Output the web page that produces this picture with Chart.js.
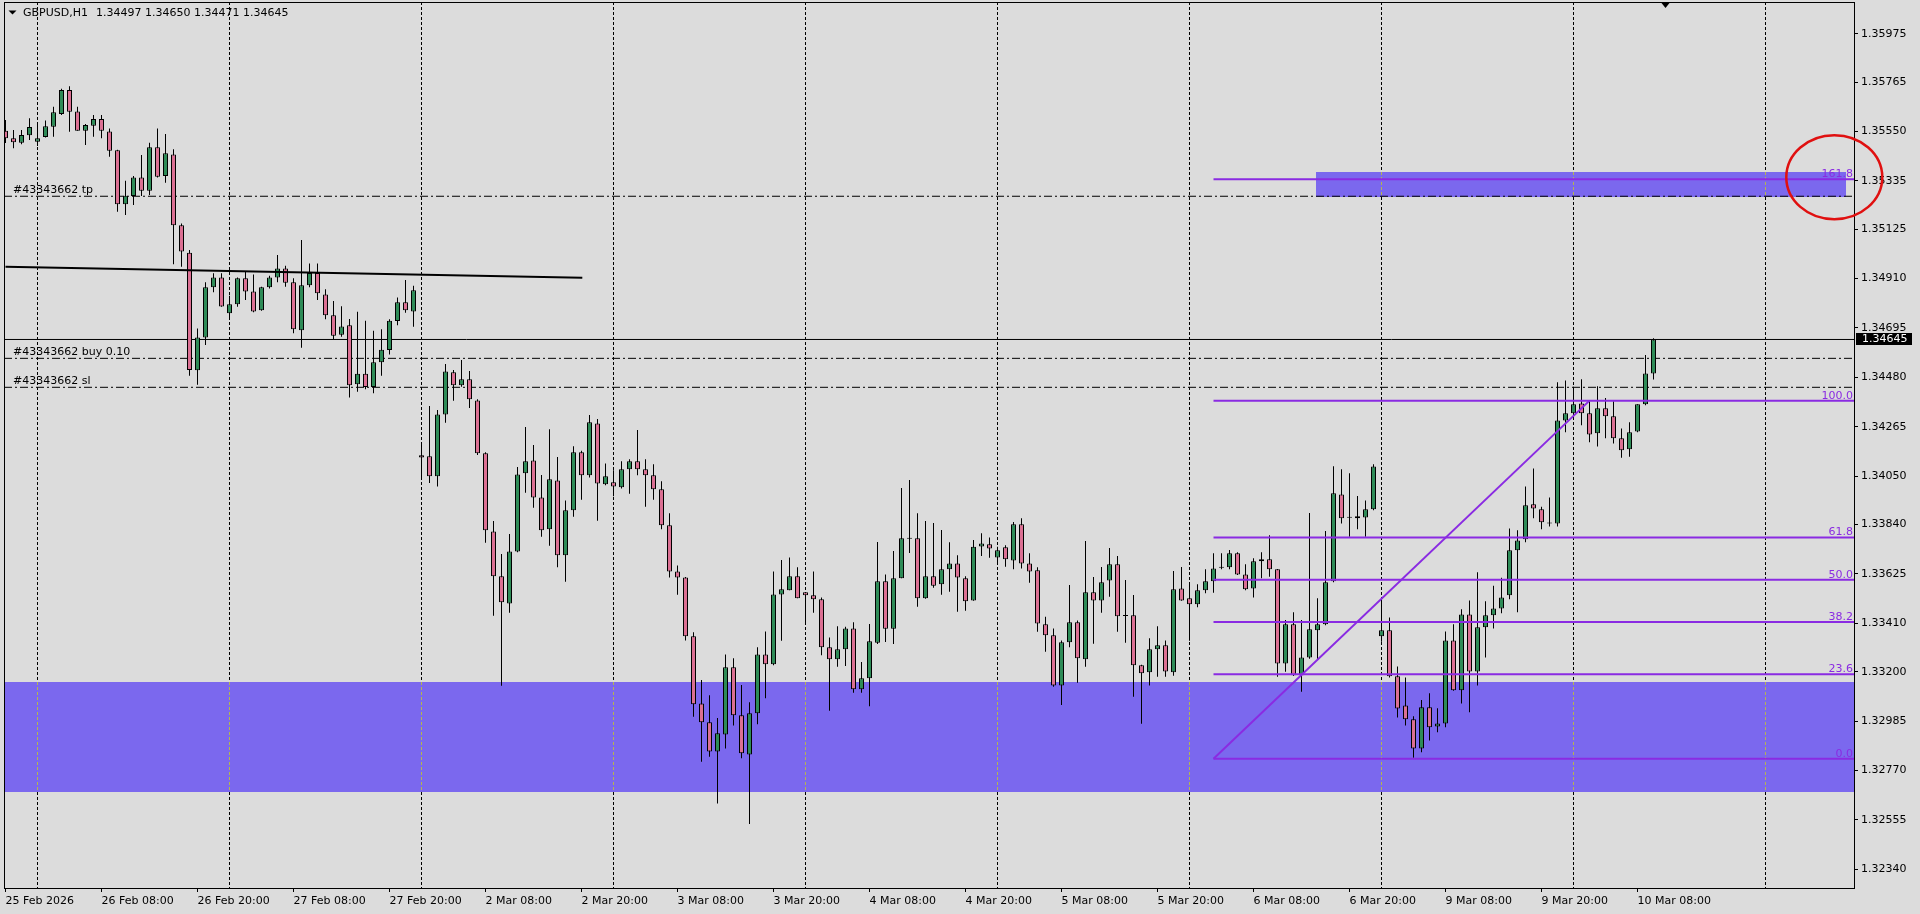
<!DOCTYPE html>
<html><head><meta charset="utf-8">
<script src="https://cdn.jsdelivr.net/npm/chart.js@4.4.1/dist/chart.umd.min.js"></script>
<style>html,body{margin:0;padding:0;background:#dcdcdc;overflow:hidden}canvas{display:block}</style>
</head><body>
<canvas id="c" width="1920" height="914"></canvas>
<script>
// ---------------- DATA ----------------
const symbolTitle = 'GBPUSD,H1';
const timeLabels = ['25 Feb 2026','26 Feb 08:00','26 Feb 20:00','27 Feb 08:00','27 Feb 20:00','2 Mar 08:00','2 Mar 20:00','3 Mar 08:00','3 Mar 20:00','4 Mar 08:00','4 Mar 20:00','5 Mar 08:00','5 Mar 20:00','6 Mar 08:00','6 Mar 20:00','9 Mar 08:00','9 Mar 20:00','10 Mar 08:00'];
const timeLabelBars = [0,12,24,36,48,60,72,84,96,108,120,132,144,156,168,180,192,204];
const dayGridBars = [4,28,52,76,100,124,148,172,196,220];
const priceTicks = [1.35975,1.35765,1.35550,1.35335,1.35125,1.34910,1.34695,1.34480,1.34265,1.34050,1.33840,1.33625,1.33410,1.33200,1.32985,1.32770,1.32555,1.32340];

const opens = [
1.35553,1.35520,1.35501,1.35533,1.35505,1.35526,1.35570,1.35626,1.35730,1.35637,
1.35553,1.35575,1.35604,1.35550,1.35468,1.35233,1.35269,1.35350,1.35292,1.35481,
1.35356,1.35450,1.35142,1.35022,1.34511,1.34654,1.34872,1.34915,1.34759,1.34798,
1.34911,1.34854,1.34772,1.34872,1.34915,1.34954,1.34894,1.34685,1.34881,1.34934,
1.34841,1.34750,1.34666,1.34707,1.34450,1.34496,1.34438,1.34546,1.34599,1.34725,
1.34807,1.34767,1.34141,1.34137,1.34050,1.34319,1.34502,1.34446,1.34472,1.34380,
1.34150,1.33810,1.33615,1.33497,1.33723,1.34063,1.34119,1.33958,1.33819,1.34032,
1.33706,1.33902,1.34154,1.34054,1.34280,1.34015,1.34024,1.34002,1.34080,1.34115,
1.34080,1.34054,1.33993,1.33837,1.33636,1.33610,1.33354,1.33062,1.32980,1.32853,
1.32927,1.33219,1.33010,1.32840,1.33019,1.33275,1.33232,1.33536,1.33554,1.33615,
1.33545,1.33532,1.33515,1.33306,1.33254,1.33297,1.33388,1.33123,1.33171,1.33326,
1.33593,1.33387,1.33606,1.33778,1.33780,1.33519,1.33615,1.33580,1.33645,1.33671,
1.33606,1.33510,1.33745,1.33754,1.33697,1.33741,1.33684,1.33841,1.33671,1.33641,
1.33406,1.33358,1.33140,1.33328,1.33415,1.33254,1.33545,1.33510,1.33597,1.33667,
1.33442,1.33445,1.33228,1.33197,1.33297,1.33315,1.33197,1.33562,1.33519,1.33493,
1.33554,1.33593,1.33652,1.33654,1.33715,1.33623,1.33562,1.33680,1.33689,1.33645,
1.33236,1.33406,1.33184,1.33262,1.33380,1.33406,1.33593,1.33971,1.33870,1.33876,
1.33871,1.33906,1.33354,1.33380,1.33180,1.33053,1.32993,1.32866,1.33045,1.32962,
1.32975,1.33336,1.33119,1.33449,1.33201,1.33393,1.33445,1.33475,1.33532,1.33728,
1.33776,1.33928,1.33906,1.33845,1.33845,1.34293,1.34324,1.34367,1.34324,1.34237,
1.34346,1.34311,1.34215,1.34167,1.34245,1.34363,1.34497];
const highs = [
1.35600,1.35556,1.35556,1.35607,1.35590,1.35597,1.35657,1.35736,1.35747,1.35657,
1.35582,1.35621,1.35621,1.35563,1.35470,1.35336,1.35356,1.35447,1.35501,1.35563,
1.35539,1.35472,1.35150,1.35034,1.34693,1.34894,1.34933,1.34933,1.34835,1.34915,
1.34940,1.34928,1.34874,1.34922,1.35012,1.34966,1.34911,1.35078,1.34976,1.34976,
1.34863,1.34812,1.34790,1.34734,1.34766,1.34727,1.34683,1.34689,1.34733,1.34828,
1.34904,1.34879,1.34190,1.34356,1.34338,1.34538,1.34512,1.34556,1.34508,1.34385,
1.34154,1.33855,1.33712,1.33799,1.34090,1.34264,1.34186,1.34055,1.34255,1.34134,
1.33945,1.34181,1.34161,1.34316,1.34299,1.34106,1.34076,1.34115,1.34124,1.34251,
1.34124,1.34102,1.34028,1.33889,1.33662,1.33612,1.33371,1.33164,1.33097,1.32998,
1.33275,1.33258,1.33142,1.33067,1.33306,1.33375,1.33636,1.33686,1.33697,1.33654,
1.33547,1.33636,1.33523,1.33349,1.33398,1.33395,1.33415,1.33242,1.33407,1.33764,
1.33623,1.33725,1.33999,1.34034,1.33889,1.33855,1.33847,1.33816,1.33763,1.33706,
1.33615,1.33773,1.33802,1.33784,1.33743,1.33750,1.33851,1.33867,1.33715,1.33654,
1.33439,1.33388,1.33336,1.33577,1.33423,1.33768,1.33612,1.33655,1.33738,1.33703,
1.33599,1.33533,1.33230,1.33345,1.33398,1.33336,1.33638,1.33655,1.33589,1.33580,
1.33646,1.33715,1.33715,1.33729,1.33719,1.33667,1.33693,1.33719,1.33793,1.33647,
1.33425,1.33458,1.33425,1.33890,1.33519,1.33812,1.34094,1.34081,1.34063,1.33964,
1.33945,1.34102,1.33512,1.33436,1.33223,1.33175,1.33006,1.33077,1.33106,1.33041,
1.33375,1.33406,1.33471,1.33510,1.33632,1.33506,1.33574,1.33609,1.33823,1.33815,
1.34006,1.34084,1.33917,1.33958,1.34459,1.34467,1.34439,1.34472,1.34377,1.34442,
1.34390,1.34376,1.34258,1.34285,1.34363,1.34577,1.34650];
const lows = [
1.35500,1.35477,1.35494,1.35513,1.35487,1.35524,1.35527,1.35621,1.35549,1.35553,
1.35491,1.35527,1.35520,1.35440,1.35201,1.35186,1.35230,1.35269,1.35273,1.35350,
1.35327,1.34972,1.34961,1.34487,1.34448,1.34621,1.34850,1.34787,1.34740,1.34787,
1.34817,1.34763,1.34770,1.34867,1.34894,1.34874,1.34672,1.34609,1.34872,1.34817,
1.34733,1.34647,1.34657,1.34393,1.34418,1.34428,1.34411,1.34487,1.34580,1.34707,
1.34761,1.34700,1.34038,1.34021,1.34005,1.34283,1.34379,1.34439,1.34347,1.34142,
1.33761,1.33443,1.33139,1.33456,1.33720,1.33978,1.33913,1.33787,1.33748,1.33654,
1.33591,1.33874,1.33948,1.34045,1.33857,1.34011,1.33963,1.33997,1.33974,1.34054,
1.33917,1.33948,1.33819,1.33610,1.33535,1.33336,1.33004,1.32808,1.32830,1.32627,
1.32866,1.32966,1.32823,1.32537,1.32971,1.33084,1.33228,1.33335,1.33554,1.33519,
1.33415,1.33456,1.33271,1.33030,1.33221,1.33225,1.33108,1.33108,1.33050,1.33320,
1.33329,1.33320,1.33606,1.33716,1.33482,1.33517,1.33565,1.33535,1.33548,1.33461,
1.33465,1.33508,1.33703,1.33696,1.33677,1.33656,1.33645,1.33649,1.33587,1.33374,
1.33287,1.33134,1.33055,1.33306,1.33152,1.33221,1.33321,1.33456,1.33526,1.33374,
1.33326,1.33091,1.32973,1.33140,1.33178,1.33178,1.33182,1.33508,1.33335,1.33480,
1.33541,1.33543,1.33645,1.33645,1.33621,1.33554,1.33523,1.33606,1.33613,1.33178,
1.33200,1.33181,1.33113,1.33256,1.33255,1.33402,1.33589,1.33845,1.33787,1.33819,
1.33787,1.33902,1.33330,1.33175,1.33001,1.32966,1.32826,1.32849,1.32901,1.32936,
1.32958,1.33117,1.33062,1.33023,1.33140,1.33262,1.33388,1.33454,1.33515,1.33458,
1.33763,1.33867,1.33819,1.33831,1.33832,1.34241,1.34310,1.34272,1.34198,1.34180,
1.34215,1.34193,1.34131,1.34135,1.34241,1.34359,1.34471];
const closes = [
1.35520,1.35503,1.35534,1.35569,1.35520,1.35572,1.35633,1.35730,1.35636,1.35553,
1.35578,1.35604,1.35553,1.35466,1.35233,1.35270,1.35350,1.35292,1.35481,1.35353,
1.35455,1.35142,1.35028,1.34512,1.34654,1.34872,1.34915,1.34789,1.34798,1.34911,
1.34854,1.34767,1.34872,1.34915,1.34954,1.34892,1.34689,1.34881,1.34934,1.34846,
1.34750,1.34661,1.34702,1.34446,1.34496,1.34438,1.34546,1.34600,1.34727,1.34807,
1.34772,1.34859,1.34132,1.34050,1.34319,1.34506,1.34446,1.34472,1.34385,1.34150,
1.33815,1.33615,1.33502,1.33723,1.34058,1.34115,1.33958,1.33815,1.34037,1.33706,
1.33902,1.34154,1.34054,1.34285,1.34019,1.34050,1.34006,1.34080,1.34115,1.34080,
1.34054,1.33993,1.33837,1.33636,1.33610,1.33354,1.33058,1.32980,1.32853,1.32932,
1.33219,1.33010,1.32845,1.33019,1.33275,1.33232,1.33536,1.33558,1.33615,1.33519,
1.33532,1.33515,1.33306,1.33254,1.33297,1.33388,1.33123,1.33171,1.33332,1.33593,
1.33387,1.33606,1.33780,1.33778,1.33519,1.33615,1.33574,1.33645,1.33671,1.33610,
1.33506,1.33743,1.33758,1.33736,1.33728,1.33689,1.33841,1.33671,1.33636,1.33410,
1.33358,1.33140,1.33328,1.33415,1.33258,1.33545,1.33510,1.33589,1.33667,1.33441,
1.33442,1.33228,1.33193,1.33297,1.33315,1.33201,1.33558,1.33510,1.33493,1.33554,
1.33593,1.33649,1.33652,1.33715,1.33623,1.33558,1.33680,1.33689,1.33645,1.33236,
1.33406,1.33184,1.33262,1.33384,1.33406,1.33589,1.33976,1.33867,1.33870,1.33867,
1.33906,1.34093,1.33380,1.33180,1.33040,1.32993,1.32866,1.33045,1.32958,1.32975,
1.33336,1.33119,1.33449,1.33201,1.33393,1.33445,1.33475,1.33523,1.33728,1.33771,
1.33924,1.33910,1.33850,1.33845,1.34293,1.34324,1.34363,1.34324,1.34232,1.34346,
1.34311,1.34215,1.34163,1.34241,1.34363,1.34497,1.34645];

// chart objects (bar index / price anchors)
const trendLineBars = [0, 72.1];
const trendLinePrices = [1.34961, 1.34914];
const fibBars = [151, 198];
const fibPrices = [1.32821, 1.34379];
const fibLevels = [0, 23.6, 38.2, 50, 61.8, 100, 161.8];
const orderNames = ['#43343662 tp', '#43343662 buy 0.10', '#43343662 sl'];
const orderPrices = [1.35268, 1.34563, 1.34437];
const zoneBars = [[-2, 240], [163.8, 230]];
const zonePrices = [[1.33155, 1.32678], [1.35375, 1.35266]];
const circleAnchor = [228.6, 1.35351];
const shiftMarkBar = 207.5;

// ---------------- STYLE ----------------
const BULL = '#2e8b57', BEAR = '#db7093', FIB = '#8a2be2', ZONE = '#7b68ee';
const FONT = "'DejaVu Sans', sans-serif";
const X_MIN = -0.1875, X_MAX = 231.0625, Y_MIN = 1.32259, Y_MAX = 1.36113;

const N = opens.length;
const barIdx = opens.map((_, i) => i);
const wickData = barIdx.map(i => ({x: i, y: [lows[i], highs[i]]}));
const bodyData = barIdx.map(i => ({x: i, y: [opens[i], closes[i]]}));
const bodyColors = barIdx.map(i => closes[i] > opens[i] ? BULL : BEAR);

const labelMap = {};
timeLabelBars.forEach((b, k) => labelMap[b] = timeLabels[k]);
const gridSet = new Set(dayGridBars);
const labelSet = new Set(timeLabelBars);
const xTickValues = [...new Set([...timeLabelBars, ...dayGridBars])].sort((a, b) => a - b);

const lineDs = (pts, color, width, dash, order) => ({
  type: 'line', data: pts, borderColor: color, borderWidth: width, borderDash: dash || [],
  pointRadius: 0, fill: false, order: order, tension: 0
});

const datasets = [];
const fibRange = fibPrices[1] - fibPrices[0];
fibLevels.forEach(l => {
  const p = fibPrices[0] + fibRange * l / 100;
  datasets.push(lineDs([{x: fibBars[0], y: p}, {x: X_MAX, y: p}], FIB, 2, null, 0));
});
datasets.push(lineDs([{x: fibBars[0], y: fibPrices[0]}, {x: fibBars[1], y: fibPrices[1]}], FIB, 2, null, 0));
datasets.push(lineDs([{x: trendLineBars[0], y: trendLinePrices[0]}, {x: trendLineBars[1], y: trendLinePrices[1]}], '#000', 2, null, 0));
datasets.push({label: 'body', data: bodyData, backgroundColor: bodyColors, borderColor: '#000', borderWidth: 1,
  borderSkipped: false, barThickness: 5, grouped: false, minBarLength: 1, inflateAmount: 0, order: 1});
datasets.push({label: 'wick', data: wickData, backgroundColor: '#000', borderWidth: 0,
  barThickness: 1, grouped: false, minBarLength: 1, inflateAmount: 0, order: 2});
orderPrices.forEach(p => datasets.push(lineDs([{x: X_MIN, y: p}, {x: X_MAX, y: p}], '#000', 1, [8, 3, 2, 3], 3)));
datasets.push(lineDs([{x: X_MIN, y: closes[N - 1]}, {x: X_MAX, y: closes[N - 1]}], '#000', 1, null, 3));

const alignPx = v => Math.round(v - 0.5) + 0.5;

const mt4Plugin = {
  id: 'mt4',
  beforeDatasetsDraw(chart) {
    const {ctx, chartArea: a, scales: {x, y}} = chart;
    ctx.save();
    ctx.beginPath(); ctx.rect(a.left, a.top, a.right - a.left, a.bottom - a.top); ctx.clip();
    zoneBars.forEach((zb, k) => {
      const x0 = Math.round(x.getPixelForValue(zb[0])), x1 = Math.round(x.getPixelForValue(zb[1]));
      const y0 = Math.round(y.getPixelForValue(zonePrices[k][0])), y1 = Math.round(y.getPixelForValue(zonePrices[k][1]));
      ctx.fillStyle = ZONE;
      ctx.fillRect(x0, y0, x1 - x0, y1 - y0);
      ctx.strokeStyle = '#b4b450'; ctx.lineWidth = 1; ctx.setLineDash([3, 2]);
      dayGridBars.forEach(g => {
        const gx = alignPx(x.getPixelForValue(g));
        if (gx > x0 && gx < x1) { ctx.beginPath(); ctx.moveTo(gx, y0); ctx.lineTo(gx, y1); ctx.stroke(); }
      });
      ctx.setLineDash([]);
    });
    ctx.restore();
  },
  afterDraw(chart) {
    const {ctx, chartArea: a, scales: {x, y}} = chart;
    ctx.save();
    ctx.strokeStyle = '#000'; ctx.lineWidth = 1;
    ctx.strokeRect(a.left + 0.5, a.top + 0.5, a.right - a.left, a.bottom - a.top);
    ctx.font = '11px ' + FONT;
    ctx.fillStyle = '#000'; ctx.textAlign = 'left'; ctx.textBaseline = 'middle';
    ctx.beginPath(); ctx.moveTo(8.5, 10.5); ctx.lineTo(16.5, 10.5); ctx.lineTo(12.5, 14.5); ctx.closePath(); ctx.fill();
    ctx.fillText(symbolTitle, 23, 13);
    ctx.fillText([opens[N-1], highs[N-1], lows[N-1], closes[N-1]].map(v => v.toFixed(5)).join(' '), 96, 13);
    ctx.textBaseline = 'alphabetic';
    orderNames.forEach((t, k) => ctx.fillText(t, 13, y.getPixelForValue(orderPrices[k]) - 3));
    ctx.fillStyle = FIB; ctx.textAlign = 'right';
    fibLevels.forEach(l => {
      const p = fibPrices[0] + fibRange * l / 100;
      ctx.fillText(l.toFixed(1), a.right - 1, y.getPixelForValue(p) - 2);
    });
    const by = y.getPixelForValue(closes[N - 1]);
    ctx.fillStyle = '#000'; ctx.fillRect(a.right + 2, Math.round(by) - 6, 56, 12);
    ctx.fillStyle = '#fff'; ctx.textAlign = 'left'; ctx.textBaseline = 'middle';
    ctx.fillText(closes[N - 1].toFixed(5), a.right + 8, by);
    const sx = alignPx(x.getPixelForValue(shiftMarkBar));
    ctx.fillStyle = '#000';
    ctx.beginPath(); ctx.moveTo(sx - 4, a.top + 1); ctx.lineTo(sx + 4, a.top + 1); ctx.lineTo(sx, a.top + 6); ctx.closePath(); ctx.fill();
    ctx.strokeStyle = '#e01010'; ctx.lineWidth = 2.5;
    ctx.beginPath();
    ctx.ellipse(x.getPixelForValue(circleAnchor[0]), y.getPixelForValue(circleAnchor[1]), 48, 42, 0, 0, Math.PI * 2);
    ctx.stroke();
    ctx.restore();
  }
};

Chart.defaults.font.family = FONT;
Chart.defaults.font.size = 11;
Chart.defaults.color = '#000';

new Chart(document.getElementById('c'), {
  type: 'bar',
  data: {datasets},
  options: {
    responsive: false, animation: false, devicePixelRatio: 1,
    layout: {padding: {left: 4, top: 2, right: 0, bottom: 0}},
    plugins: {legend: {display: false}, tooltip: {enabled: false}},
    scales: {
      x: {
        type: 'linear', min: X_MIN, max: X_MAX, bounds: 'data', offset: false, position: 'bottom',
        afterBuildTicks: s => { s.ticks = xTickValues.map(v => ({value: v})); },
        afterFit: s => { s.height = 26; s.paddingLeft = 0; s.paddingRight = 0; s.paddingTop = 0; s.paddingBottom = 0; },
        ticks: {autoSkip: false, maxRotation: 0, minRotation: 0, align: 'start', padding: 3, color: '#000',
          font: {family: FONT, size: 11}, callback: v => (labelMap[v] !== undefined ? labelMap[v] : '')},
        grid: {
          offset: false,
          color: c => (c.tick && gridSet.has(c.tick.value)) ? '#000' : 'rgba(0,0,0,0)',
          tickColor: c => (c.tick && labelSet.has(c.tick.value)) ? '#000' : 'rgba(0,0,0,0)',
          tickLength: 4, lineWidth: 1, drawOnChartArea: true, drawTicks: true
        },
        border: {display: false, dash: [3, 2]}
      },
      y: {
        type: 'linear', position: 'right', min: Y_MIN, max: Y_MAX, bounds: 'data',
        afterBuildTicks: s => { s.ticks = priceTicks.map(v => ({value: v})); },
        afterFit: s => { s.width = 66; s.paddingTop = 0; s.paddingBottom = 0; s.paddingLeft = 0; s.paddingRight = 0; },
        ticks: {autoSkip: false, padding: 3, color: '#000', font: {family: FONT, size: 11}, callback: v => Number(v).toFixed(5)},
        grid: {offset: false, drawOnChartArea: false, drawTicks: true, tickLength: 4, tickColor: '#000', color: '#000'},
        border: {display: false}
      }
    }
  },
  plugins: [mt4Plugin]
});
</script>
</body></html>
